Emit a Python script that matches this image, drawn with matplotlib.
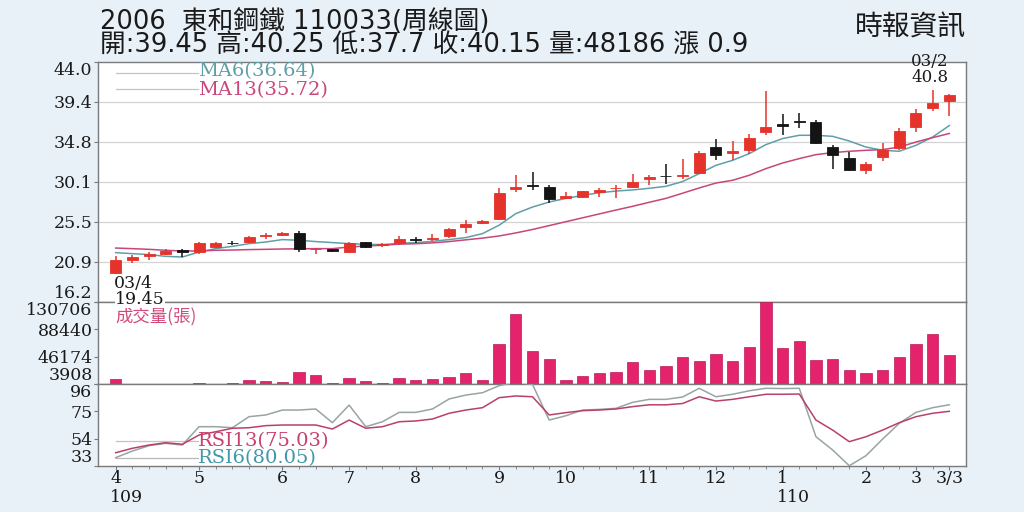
import matplotlib
matplotlib.use("Agg")
import matplotlib.pyplot as plt
from matplotlib.patches import Rectangle
import matplotlib.transforms as mtransforms
import numpy as np

# ---------------- data ----------------
opens = [19.6, 21.1, 21.5, 21.8, 22.2, 22.0, 22.6, 23.05, 23.15, 23.8,
         24.0, 24.2, 22.3, 22.3, 21.95, 23.1, 22.8, 23.0, 23.45, 23.55,
         23.8, 24.85, 25.3, 25.85, 29.3, 29.75, 29.5, 28.25, 28.35, 28.95,
         29.35, 29.5, 30.4, 30.8, 30.8, 31.1, 34.15, 33.45, 33.8, 35.9,
         36.85, 37.15, 37.05, 34.15, 32.9, 31.5, 33.0, 34.0, 36.5, 38.7, 39.45]
highs = [21.5, 21.7, 22.0, 22.3, 22.3, 23.15, 23.15, 23.3, 23.85, 24.25,
         24.35, 24.45, 22.4, 22.35, 23.1, 23.2, 23.05, 23.8, 23.75, 24.1,
         24.75, 25.75, 25.75, 29.35, 30.95, 31.25, 29.8, 28.95, 29.1, 29.35,
         29.7, 31.05, 30.9, 32.15, 32.8, 33.7, 35.1, 34.8, 35.7, 40.6,
         38.0, 38.15, 37.25, 34.35, 33.6, 32.4, 34.65, 36.35, 38.6, 40.8, 40.25]
lows = [19.45, 20.7, 21.1, 21.6, 21.4, 21.8, 22.45, 22.8, 23.0, 23.55,
        23.95, 22.0, 21.8, 22.0, 21.9, 22.5, 22.55, 22.75, 23.0, 23.3,
        23.65, 24.25, 25.2, 25.75, 28.95, 29.2, 27.7, 28.1, 28.3, 28.4,
        28.25, 29.45, 29.7, 29.9, 30.4, 31.0, 32.6, 32.6, 33.3, 35.6,
        35.6, 36.3, 34.55, 31.55, 31.4, 31.0, 32.5, 33.85, 35.9, 38.3, 37.7]
closes = [21.05, 21.4, 21.8, 22.05, 21.95, 23.0, 23.0, 23.0, 23.7, 24.0,
          24.25, 22.3, 22.35, 22.1, 23.05, 22.6, 22.9, 23.45, 23.4, 23.65,
          24.6, 25.2, 25.6, 28.85, 29.5, 29.65, 28.1, 28.5, 29.0, 29.15,
          29.45, 30.1, 30.7, 30.75, 30.9, 33.5, 33.2, 33.7, 35.2, 36.45,
          36.55, 37.1, 34.6, 33.2, 31.5, 32.15, 33.85, 36.0, 38.15, 39.25, 40.15]

ma6 = [21.92, 21.80, 21.69, 21.49, 21.41, 21.99, 22.38, 22.65, 22.96, 23.15,
       23.43, 23.35, 23.20, 23.08, 22.96, 22.88, 22.85, 23.00, 23.08, 23.23,
       23.43, 23.66, 24.12, 25.10, 26.44, 27.20, 27.78, 28.20, 28.55, 28.85,
       29.05, 29.18, 29.37, 29.60, 30.15, 31.07, 32.03, 32.61, 33.39, 34.43,
       35.13, 35.51, 35.51, 35.39, 34.85, 34.15, 33.77, 33.66, 34.35, 35.31, 36.64]
ma13 = [22.45, 22.38, 22.30, 22.19, 22.11, 22.11, 22.19, 22.22, 22.27, 22.30,
        22.34, 22.36, 22.38, 22.38, 22.57, 22.69, 22.77, 22.90, 22.95, 23.05,
        23.20, 23.40, 23.60, 23.85, 24.20, 24.60, 25.05, 25.50, 25.95, 26.40,
        26.85, 27.28, 27.75, 28.20, 28.80, 29.41, 29.98, 30.30, 30.88, 31.65,
        32.30, 32.81, 33.27, 33.50, 33.66, 33.77, 33.85, 34.15, 34.73, 35.24, 35.72]

volume = [11640, 3500, 4600, 4300, 3600, 5000, 3700, 5200, 10100, 8550,
          7460, 22930, 17820, 5920, 12700, 8080, 5920, 12700, 9600, 11640,
          15200, 20400, 10100, 65300, 112150, 54930, 42570, 10560, 15800, 20400,
          22460, 37930, 25080, 32200, 46120, 39940, 50760, 39000, 60660, 130706,
          59110, 70400, 41020, 42100, 25550, 20920, 26020, 45190, 65760, 81220, 48186]

rsi6 = [39.4, 44.5, 48.6, 50.4, 49.1, 63.2, 63.2, 62.4, 70.9, 72.2,
        76.0, 76.0, 76.8, 66.3, 79.8, 63.2, 67.0, 74.2, 74.2, 76.8,
        84.5, 87.5, 89.3, 94.7, 97.3, 95.7, 68.3, 71.6, 76.0, 76.5,
        77.3, 81.9, 84.2, 84.2, 86.0, 92.7, 86.2, 88.1, 90.8, 92.7,
        92.5, 92.7, 55.5, 45.3, 33.2, 40.9, 53.7, 65.8, 74.2, 77.8, 80.05]
rsi13 = [43.2, 46.6, 49.1, 50.9, 49.7, 56.8, 59.3, 62.0, 62.4, 64.0,
         64.5, 64.5, 64.5, 61.4, 68.3, 62.0, 63.2, 67.0, 67.6, 69.1,
         73.5, 76.0, 77.8, 85.5, 86.8, 86.2, 72.2, 74.0, 75.5, 76.0,
         76.8, 78.6, 80.0, 80.0, 81.0, 86.2, 82.9, 84.2, 86.2, 88.1,
         88.1, 88.3, 68.3, 60.6, 51.7, 55.5, 60.6, 66.3, 70.9, 73.5, 75.03]

month_tick_idx = [0, 5, 10, 14, 18, 23, 27, 32, 36, 40, 45, 48, 50]
month_tick_labels = ["4", "5", "6", "7", "8", "9", "10", "11", "12", "1", "2", "3", "3/3"]
year_label_idx = [0, 40]
year_labels = ["109", "110"]

price_tick_labels = ["16.2", "20.9", "25.5", "30.1", "34.8", "39.4", "44.0"]
vol_tick_labels = ["3908", "46174", "88440", "130706"]
rsi_tick_labels = ["33", "54", "75", "96"]

title1 = "2006  東和鋼鐵 110033(周線圖)"
title2 = "開:39.45 高:40.25 低:37.7 收:40.15 量:48186 漲 0.9"
source = "時報資訊"

# ---------------- style ----------------
BG = "#e8f0f8"
SPINE = "#7a7a7a"
RED = "#e5322a"
BLACK = "#141414"
VOLC = "#e5226c"
MA6C = "#5f9fa8"
MA13C = "#c8467a"
RSI6C = "#98a4a6"
RSI13C = "#b8406c"
TXT = "#1a1a1a"
SERIF = ["DejaVu Serif"]
CJK = ["DejaVu Sans", "Noto Sans CJK TC"]

fig = plt.figure(figsize=(10.24, 5.12), dpi=100, facecolor=BG)

L, W = 98 / 1024, (966 - 98) / 1024
def frac(top, bottom):
    return [L, 1 - bottom / 512, W, (bottom - top) / 512]

axp = fig.add_axes(frac(62, 302))
axv = fig.add_axes(frac(302, 384), sharex=axp)
axr = fig.add_axes(frac(384, 466), sharex=axp)

n = len(closes)
x = np.arange(n)

for ax in (axp, axv, axr):
    ax.set_facecolor("white")
    for s in ax.spines.values():
        s.set_color(SPINE)
        s.set_linewidth(1.0)
    ax.tick_params(axis="y", which="both", length=3, color=SPINE, labelsize=12.5,
                   labelcolor=TXT, pad=1)

axp.set_xlim(-1.06, 51.0)

# price panel
pmin, pmax = 16.2, 44.0
axp.set_ylim(pmin, pmax)
pt = np.linspace(pmin, pmax, len(price_tick_labels))
axp.set_yticks(pt, price_tick_labels, family=SERIF, fontsize=12.5)
for v in pt[1:-1]:
    axp.axhline(v, color="#d4d4d4", lw=0.9, zorder=0)

bw = 0.66
for i in range(n):
    o, h, l, c = opens[i], highs[i], lows[i], closes[i]
    col = RED if c >= o else BLACK
    axp.vlines(i, l, h, color=col, lw=1.1, zorder=3)
    lo, hi = min(o, c), max(o, c)
    hgt = max(hi - lo, 0.08)
    axp.add_patch(Rectangle((i - bw / 2, lo), bw, hgt, facecolor=col,
                            edgecolor=col, lw=0.6, zorder=4))

axp.plot(x, ma6, color=MA6C, lw=1.1, zorder=2)
axp.plot(x, ma13, color=MA13C, lw=1.1, zorder=2)

axp.plot([0.0, 4.95], [42.75, 42.75], color="#c4c4c4", lw=0.9, zorder=1)
axp.plot([0.0, 4.95], [40.9, 40.9], color="#c4c4c4", lw=0.9, zorder=1)
axp.text(4.95, 42.9, "MA6(36.64)", color=MA6C, fontsize=14, family=SERIF, va="center", ha="left")
axp.text(4.95, 40.75, "MA13(35.72)", color=MA13C, fontsize=14, family=SERIF, va="center", ha="left")

axp.text(-0.08, 18.4, "03/4", fontsize=12.5, family=SERIF, color=TXT, ha="left", va="center")
axp.text(49.95, 44.1, "03/2", fontsize=12, family=SERIF, color=TXT, ha="right", va="center",
         clip_on=False)
axp.text(49.95, 42.15, "40.8", fontsize=12, family=SERIF, color=TXT, ha="right", va="center")
tlow = mtransforms.blended_transform_factory(axp.transData, fig.transFigure)
fig.text(-0.04, 1 - 299 / 512, "19.45", transform=tlow, fontsize=12.5, family=SERIF,
         color=TXT, ha="left", va="center", zorder=10,
         bbox=dict(boxstyle="square,pad=0.0", facecolor="white", edgecolor="none"))

# volume panel
vmin, vmax = 3908, 130706
axv.set_ylim(vmin, vmax)
axv.set_yticks(np.linspace(vmin, vmax, len(vol_tick_labels)), vol_tick_labels,
               family=SERIF, fontsize=12.5)
axv.bar(x, np.array(volume) - vmin, bottom=vmin, width=0.68, color=VOLC,
        edgecolor="#b81c58", lw=0.5, zorder=3)
axv.text(0.0, 108500, "成交量(張)", color="#d24a7c", fontsize=12.5,
         family=["Noto Sans CJK TC"], ha="left", va="center")

# RSI panel
axr.set_ylim(33, 96)
axr.set_yticks([33, 54, 75, 96], rsi_tick_labels, family=SERIF, fontsize=12.5)
axr.plot(x, rsi6, color=RSI6C, lw=1.1, zorder=3)
axr.plot(x, rsi13, color=RSI13C, lw=1.1, zorder=3)
axr.plot([0.0, 4.95], [52.4, 52.4], color="#d8b8c4", lw=0.9, zorder=1)
axr.plot([0.0, 4.95], [39.4, 39.4], color="#b8b8b8", lw=0.9, zorder=1)
axr.text(4.95, 52.2, "RSI13(75.03)", color="#c8406c", fontsize=14, family=SERIF,
         ha="left", va="center", zorder=4)
axr.text(4.95, 39.0, "RSI6(80.05)", color="#3f98a8", fontsize=14, family=SERIF,
         ha="left", va="center", zorder=4)

# vertical alignment of edge tick labels
for ax in (axp, axv, axr):
    labs = ax.get_yticklabels()
    labs[0].set_verticalalignment("bottom")
    labs[-1].set_verticalalignment("top")

# x axis
plt.setp(axp.get_xticklabels(), visible=False)
plt.setp(axv.get_xticklabels(), visible=False)
axp.tick_params(axis="x", length=0)
axv.tick_params(axis="x", length=0)
axr.set_xticks(month_tick_idx, month_tick_labels, family=SERIF, fontsize=12.5)
axr.set_xticks(x, minor=True)
axr.tick_params(axis="x", which="major", length=3, color=SPINE, pad=0, labelcolor=TXT)
axr.tick_params(axis="x", which="minor", length=2.5, color=SPINE)
trans = mtransforms.blended_transform_factory(axr.transData, fig.transFigure)
for xi, yl in zip(year_label_idx, year_labels):
    fig.text(xi - 0.35, 1 - 497 / 512, yl, transform=trans, fontsize=12.5, family=SERIF,
             color=TXT, ha="left", va="center")

# header
fig.text(100 / 1024, 1 - 22 / 512, title1, fontsize=18.5, family=CJK, color=TXT,
         ha="left", va="center")
fig.text(100 / 1024, 1 - 46 / 512, title2, fontsize=18.5, family=CJK, color=TXT,
         ha="left", va="center")
fig.text(966 / 1024, 1 - 28 / 512, source, fontsize=20, family=["Noto Sans CJK TC"],
         color=TXT, ha="right", va="center")

fig.savefig("out.png", dpi=100, facecolor=BG)
